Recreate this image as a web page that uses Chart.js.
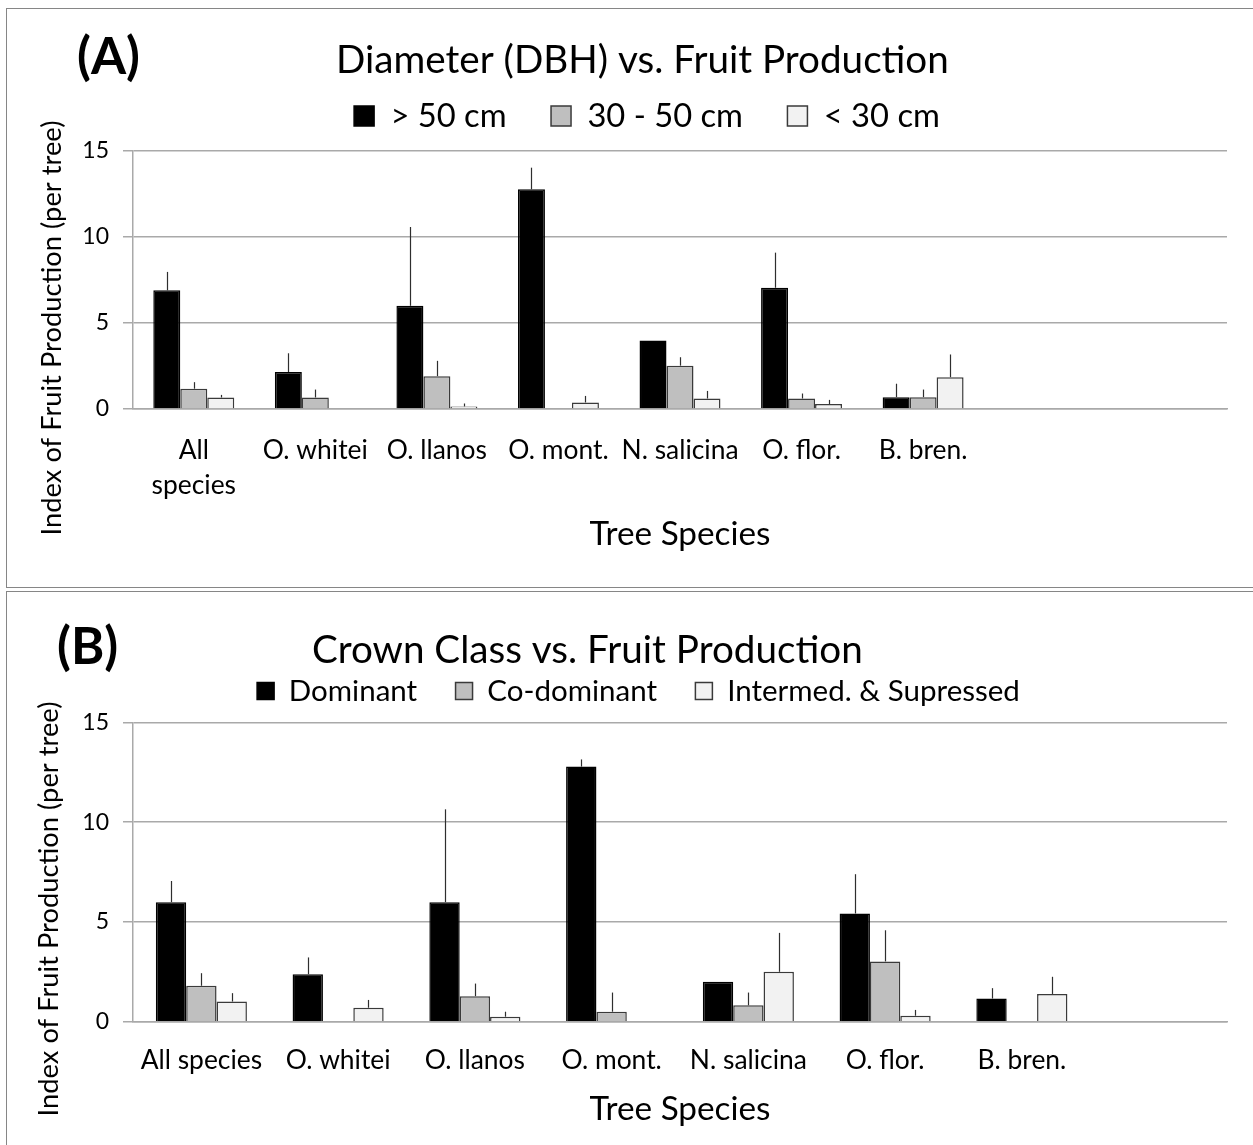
<!DOCTYPE html>
<html><head><meta charset="utf-8">
<script src="https://cdn.jsdelivr.net/npm/chart.js@4.4.1/dist/chart.umd.min.js"></script>
<style>
html,body{margin:0;padding:0;background:#fff;overflow:hidden;width:1253px;height:1145px;}
.frame{position:absolute;border:1px solid #868686;box-sizing:border-box;}
canvas{position:absolute;left:0;}
</style></head><body>
<div class="frame" style="left:6px;top:8px;width:1300px;height:580px;"></div>
<div class="frame" style="left:6px;top:591px;width:1300px;height:600px;"></div>
<canvas id="cA" width="1253" height="587" style="top:0"></canvas>
<canvas id="cB" width="1253" height="554" style="top:591px"></canvas>
<script>
// ---------- DATA ----------
const categoriesA = [['All','species'],'O. whitei','O. llanos','O. mont.','N. salicina','O. flor.','B. bren.','',''];
const seriesNamesA = ['> 50 cm','30 - 50 cm','< 30 cm'];
const dbhOver50      = [6.9, 2.15, 6.0, 12.77, 3.98, 7.05, 0.69, null, null];
const dbhOver50Err   = [1.07, 1.09, 4.58, 1.26, 0, 2.04, 0.78, 0, 0];
const dbh30to50      = [1.18, 0.67, 1.91, null, 2.52, 0.61, 0.69, null, null];
const dbh30to50Err   = [0.38, 0.46, 0.89, 0, 0.49, 0.29, 0.44, 0, 0];
const dbhUnder30     = [0.67, null, 0.15, 0.38, 0.61, 0.29, 1.85, null, null];
const dbhUnder30Err  = [0.15, 0, 0.17, 0.38, 0.44, 0.24, 1.32, 0, 0];

const categoriesB = ['All species','O. whitei','O. llanos','O. mont.','N. salicina','O. flor.','B. bren.',''];
const seriesNamesB = ['Dominant','Co-dominant','Intermed. & Supressed'];
const dominant       = [5.99, 2.38, 5.99, 12.78, 2.0, 5.42, 1.16, null];
const dominantErr    = [1.06, 0.84, 4.65, 0.36, 0, 1.97, 0.52, 0];
const coDominant     = [1.80, null, 1.28, 0.50, 0.82, 3.02, null, null];
const coDominantErr  = [0.63, 0, 0.63, 0.96, 0.64, 1.56, 0, 0];
const intermed       = [1.01, 0.70, 0.25, null, 2.50, 0.30, 1.39, null];
const intermedErr    = [0.42, 0.39, 0.25, 0, 1.95, 0.29, 0.86, 0];

const yTickValues = [0, 5, 10, 15];

const titleA = 'Diameter (DBH) vs. Fruit Production';
const titleB = 'Crown Class vs. Fruit Production';
const yTitle = 'Index of Fruit Production (per tree)';
const xTitle = 'Tree Species';

// ---------- STYLE ----------
const FONT = 'Lato';
const GRID = '#a9a9a9';
const COLORS = ['#000000', '#bfbfbf', '#f2f2f2'];
const BORDERS = ['#000000', '#3a3a3a', '#3a3a3a'];

const mctx = document.createElement('canvas').getContext('2d');
function textW(text, size, weight) { mctx.font = (weight||'400') + ' ' + size + 'px ' + FONT; return mctx.measureText(text).width; }
function fit(text, width, weight) { return 100 * width / textW(text, 100, weight); }
function fitSum(texts, width) { let s = 0; texts.forEach(t => s += textW(t, 100)); return 100 * width / s; }

// ---------- PLUGINS ----------
const errorBars = {
  id: 'errorBars',
  afterDatasetsDraw(chart) {
    const ctx = chart.ctx, ys = chart.scales.y;
    chart.data.datasets.forEach((ds, i) => {
      const meta = chart.getDatasetMeta(i);
      meta.data.forEach((bar, j) => {
        const v = ds.data[j], e = ds.errors ? ds.errors[j] : 0;
        if (v == null || !e) return;
        const x = Math.round(bar.x) + 0.5;
        ctx.save();
        ctx.strokeStyle = '#2e2e2e';
        ctx.lineWidth = 1.2;
        ctx.beginPath();
        ctx.moveTo(x, bar.y);
        ctx.lineTo(x, ys.getPixelForValue(v + e));
        ctx.stroke();
        ctx.restore();
      });
    });
  }
};
const panelText = {
  id: 'panelText',
  afterDraw(chart, args, opts) {
    const ctx = chart.ctx;
    (opts.items || []).forEach(it => {
      ctx.save();
      ctx.font = it.font;
      ctx.fillStyle = '#000';
      ctx.textAlign = it.align || 'left';
      ctx.textBaseline = it.baseline || 'alphabetic';
      ctx.translate(it.x, it.y);
      if (it.rotate) ctx.rotate(it.rotate);
      ctx.fillText(it.text, 0, 0);
      ctx.restore();
    });
  }
};
const legendSpacer = {
  id: 'legendSpacer',
  beforeLayout(chart, args, opts) {
    const lg = chart.legend;
    if (lg && !lg.__patched) {
      const f = lg.fit;
      lg.fit = function () { f.call(this); this.height += opts.extra; };
      lg.__patched = true;
    }
  }
};

// ---------- FONT SIZES ----------
const fsPanel = fit('(A)', 63, '700');
const fsTitleA = fit(titleA, 613);
const fsTitleB = fit(titleB, 551);
const fsYTitle = fit(yTitle, 415);
const fsXTitle = fit(xTitle, 181);
const fsTick = fit('O. whitei', 105);
const fsY = 23;
const fsLegA = fitSum(seriesNamesA, 388);
const fsLegB = fitSum(seriesNamesB, 591);
const tickLH = 35;
const xtLH = fsXTitle * 1.2;

function makeChart(el, cfg) {
  const boxW = cfg.box;
  const legPad = (cfg.legSpan - 3 * (boxW + cfg.fsLeg / 2) - cfg.legText) / 2;
  const pt = cfg.legCenter - legPad - cfg.fsLeg / 2;
  const extra = cfg.areaTop - pt - cfg.fsLeg - legPad - 10;
  const H = el.height;
  return new Chart(el, {
    type: 'bar',
    data: {
      labels: cfg.labels,
      datasets: cfg.series.map((s, i) => ({
        label: s.name, data: s.data, errors: s.err,
        backgroundColor: COLORS[i], borderColor: BORDERS[i], borderWidth: 1.5
      }))
    },
    options: {
      responsive: false, animation: false,
      layout: { padding: { left: cfg.padLeft, right: 26, top: pt, bottom: 0 } },
      datasets: { bar: { categoryPercentage: 0.666, barPercentage: 1 } },
      plugins: {
        legend: {
          position: 'top',
          labels: { boxWidth: boxW, boxHeight: boxW, padding: legPad, color: '#000',
                    font: { family: FONT, size: cfg.fsLeg } }
        },
        tooltip: { enabled: false },
        legendSpacer: { extra: extra },
        panelText: { items: cfg.texts }
      },
      scales: {
        x: {
          grid: { display: false, drawTicks: false },
          border: { display: true, color: GRID, width: 1.5 },
          ticks: { color: '#000', autoSkip: false, maxRotation: 0, minRotation: 0,
                   font: { family: FONT, size: fsTick, lineHeight: tickLH / fsTick },
                   padding: cfg.tickCenter - cfg.areaBottom - tickLH / 2 },
          title: { display: true, text: xTitle, color: '#000',
                   font: { family: FONT, size: fsXTitle, lineHeight: 1.2 },
                   padding: { top: 0, bottom: H - cfg.xTitleCenter - xtLH / 2 } },
          afterFit(s) { s.height = H - cfg.areaBottom; }
        },
        y: {
          min: 0, max: 15,
          afterBuildTicks(s) { s.ticks = yTickValues.map(v => ({ value: v })); },
          grid: { color: GRID, lineWidth: 1.5, drawTicks: true, tickLength: 10 },
          border: { display: true, color: GRID, width: 1.5 },
          ticks: { color: '#000', font: { family: FONT, size: fsY }, padding: 14 },
          afterFit(s) { s.width = 133 - cfg.padLeft; }
        }
      }
    },
    plugins: [errorBars, panelText, legendSpacer]
  });
}

makeChart(document.getElementById('cA'), {
  labels: categoriesA,
  series: [
    { name: seriesNamesA[0], data: dbhOver50, err: dbhOver50Err },
    { name: seriesNamesA[1], data: dbh30to50, err: dbh30to50Err },
    { name: seriesNamesA[2], data: dbhUnder30, err: dbhUnder30Err }
  ],
  box: 20, fsLeg: fsLegA, legText: 388, legSpan: 586, legCenter: 116,
  padLeft: 67, areaTop: 151, areaBottom: 409, tickCenter: 450, xTitleCenter: 534,
  texts: [
    { text: '(A)', x: 77, y: 74, font: '700 ' + fsPanel + 'px ' + FONT },
    { text: titleA, x: 336, y: 73, font: '400 ' + fsTitleA + 'px ' + FONT },
    { text: yTitle, x: 52, y: 328, font: '400 ' + fsYTitle + 'px ' + FONT,
      align: 'center', baseline: 'middle', rotate: -Math.PI / 2 }
  ]
});

makeChart(document.getElementById('cB'), {
  labels: categoriesB,
  series: [
    { name: seriesNamesB[0], data: dominant, err: dominantErr },
    { name: seriesNamesB[1], data: coDominant, err: coDominantErr },
    { name: seriesNamesB[2], data: intermed, err: intermedErr }
  ],
  box: 17, fsLeg: fsLegB, legText: 591, legSpan: 763, legCenter: 100,
  padLeft: 50, areaTop: 131.3, areaBottom: 430.7, tickCenter: 469, xTitleCenter: 518,
  texts: [
    { text: '(B)', x: 57, y: 73, font: '700 ' + fsPanel + 'px ' + FONT },
    { text: titleB, x: 312, y: 72, font: '400 ' + fsTitleB + 'px ' + FONT },
    { text: yTitle, x: 49, y: 318, font: '400 ' + fsYTitle + 'px ' + FONT,
      align: 'center', baseline: 'middle', rotate: -Math.PI / 2 }
  ]
});
</script>
</body></html>
